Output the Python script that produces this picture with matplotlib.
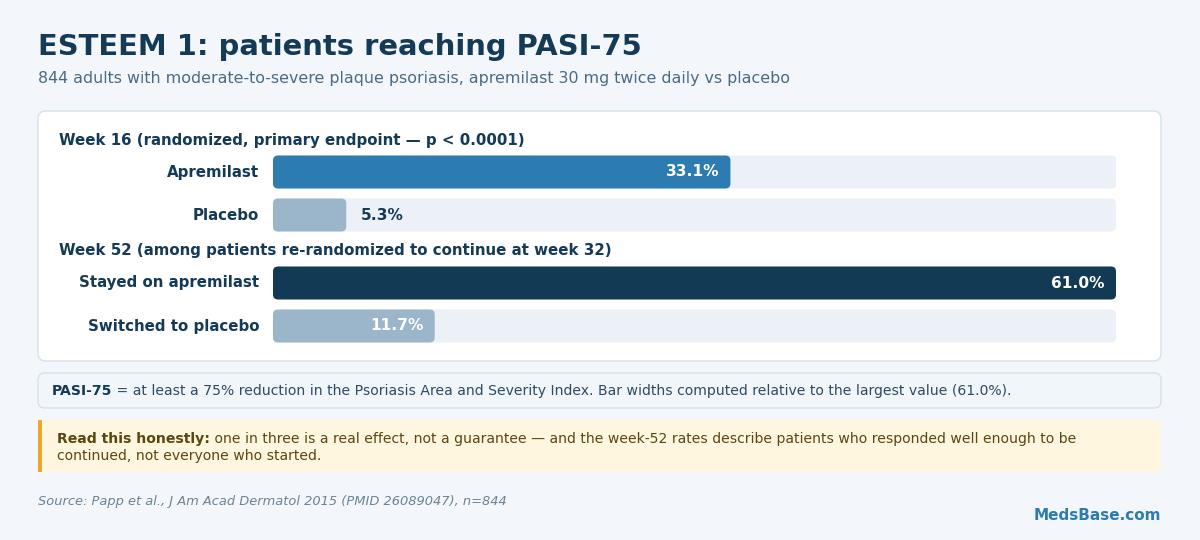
import matplotlib
matplotlib.use("Agg")
import matplotlib.pyplot as plt
from matplotlib.patches import FancyBboxPatch, Rectangle

# data
groups = ["Week 16 (randomized, primary endpoint \u2014 p < 0.0001)",
          "Week 52 (among patients re-randomized to continue at week 32)"]
labels = ["Apremilast", "Placebo", "Stayed on apremilast", "Switched to placebo"]
values = [33.1, 5.3, 61.0, 11.7]
colors = ["#2c7bb1", "#9bb6ca", "#133a55", "#9bb6ca"]

NAVY = "#143a56"
BG = "#f3f7fb"
TRACK = "#ebf1f7"

fig = plt.figure(figsize=(12, 5.4), dpi=100)
fig.patch.set_facecolor(BG)

# full-figure axes in pixel coordinates for layout
bg = fig.add_axes([0, 0, 1, 1])
bg.set_xlim(0, 1200)
bg.set_ylim(540, 0)
bg.axis("off")

bg.text(38, 47, "ESTEEM 1: patients reaching PASI-75", fontsize=20.9, fontweight="bold",
        color=NAVY, va="center", ha="left")
bg.text(38, 78, "844 adults with moderate-to-severe plaque psoriasis, apremilast 30 mg twice daily vs placebo",
        fontsize=11.45, color="#4b6a84", va="center", ha="left")

# card
bg.add_patch(FancyBboxPatch((38, 111), 1123, 250, boxstyle="round,pad=0,rounding_size=8",
                            facecolor="white", edgecolor="#d5e2ec", lw=1))

# bar axes: x spans 273..1116 px, y in pixels 150..350
x0, x1, y0, y1 = 273, 1116, 150, 350
ax = fig.add_axes([x0 / 1200, 1 - y1 / 540, (x1 - x0) / 1200, (y1 - y0) / 540])
ax.set_xlim(0, max(values))
ax.set_ylim(y1, y0)
ax.axis("off")
ax.patch.set_alpha(0)

row_y = [172, 215, 283, 326]
head_y = [140, 250]
bar_h = 33
px_per_unit = (x1 - x0) / max(values)
r_px = 5
asp = px_per_unit  # y units (px) per x unit

for g, hy in enumerate(head_y):
    bg.text(59, hy, groups[g], fontsize=10.8, fontweight="bold", color=NAVY, va="center", ha="left")

for lab, v, c, ry in zip(labels, values, colors, row_y):
    ax.add_patch(FancyBboxPatch((0, ry - bar_h / 2), max(values), bar_h,
                                boxstyle=f"round,pad=0,rounding_size={r_px / px_per_unit}",
                                mutation_aspect=asp, facecolor=TRACK, edgecolor="none"))
    ax.add_patch(FancyBboxPatch((0, ry - bar_h / 2), v, bar_h,
                                boxstyle=f"round,pad=0,rounding_size={r_px / px_per_unit}",
                                mutation_aspect=asp, facecolor=c, edgecolor="none"))
    bg.text(259, ry, lab, fontsize=10.8, fontweight="bold", color=NAVY, va="center", ha="right")
    txt = f"{v:.1f}%"
    if v * px_per_unit > 100:
        ax.text(v - 11 / px_per_unit, ry, txt, fontsize=11.1, fontweight="bold", color="white",
                va="center", ha="right")
    else:
        ax.text(v + 15 / px_per_unit, ry, txt, fontsize=11.1, fontweight="bold", color=NAVY,
                va="center", ha="left")

# note box
bg.add_patch(FancyBboxPatch((38, 373), 1123, 35, boxstyle="round,pad=0,rounding_size=7",
                            facecolor="#f1f6fa", edgecolor="#d5e2ec", lw=1))
fig.canvas.draw()
rend = fig.canvas.get_renderer()
t = bg.text(52, 391, "PASI-75", fontsize=10.1, fontweight="bold", color=NAVY, va="center", ha="left")
w = t.get_window_extent(rend).width
bg.text(52 + w, 391, " = at least a 75% reduction in the Psoriasis Area and Severity Index. "
        "Bar widths computed relative to the largest value (61.0%).",
        fontsize=10.1, color="#2f4b64", va="center", ha="left")

# warning box
bg.add_patch(Rectangle((38, 420), 1123, 52, facecolor="#fff6df", edgecolor="none"))
bg.add_patch(Rectangle((38, 420), 4, 52, facecolor="#f0a52c", edgecolor="none"))
WARN = "#5b4712"
t = bg.text(57, 439, "Read this honestly:", fontsize=10.1, fontweight="bold", color=WARN,
            va="center", ha="left")
w = t.get_window_extent(rend).width
bg.text(57 + w, 439, " one in three is a real effect, not a guarantee \u2014 and the week-52 rates "
        "describe patients who responded well enough to be", fontsize=10.1, color=WARN,
        va="center", ha="left")
bg.text(57, 456, "continued, not everyone who started.", fontsize=10.1, color=WARN,
        va="center", ha="left")

bg.text(38, 501, "Source: Papp et al., J Am Acad Dermatol 2015 (PMID 26089047), n=844",
        fontsize=9.4, style="italic", color="#6b8398", va="center", ha="left")
bg.text(1161, 515, "MedsBase.com", fontsize=11, fontweight="bold", color="#2c7bb1",
        va="center", ha="right")

fig.savefig("out.png", dpi=100, facecolor=BG)
